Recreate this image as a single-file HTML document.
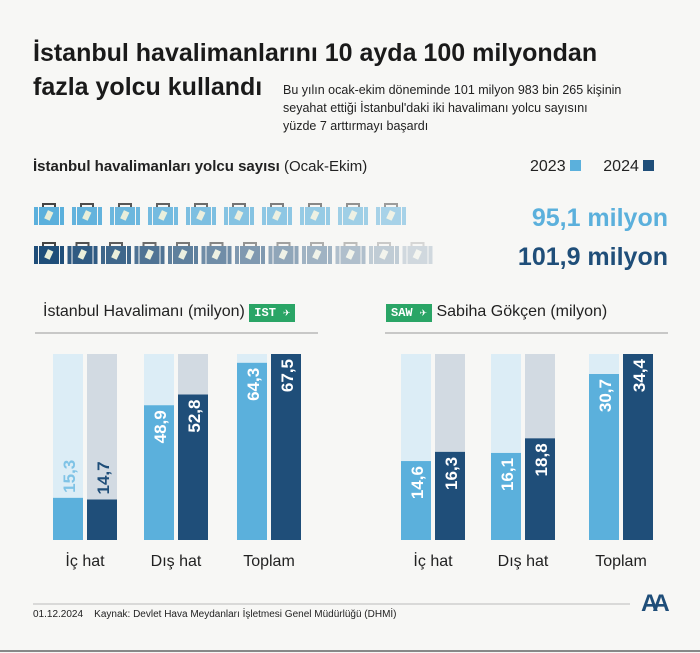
<!DOCTYPE html>
<html><head><meta charset="utf-8"><style>
body{margin:0;width:700px;height:653px;background:#f7f7f5;font-family:"Liberation Sans",sans-serif;position:relative;overflow:hidden;color:#222}
.a{position:absolute;white-space:nowrap}
</style></head><body>
<div class="a" style="left:33px;top:36px;font-size:25px;font-weight:bold;line-height:34px;color:#1a1a1a">İstanbul havalimanlarını 10 ayda 100 milyondan<br>fazla yolcu kullandı</div>
<div class="a" style="left:283px;top:81px;font-size:12.5px;line-height:18px;color:#222">Bu yılın ocak-ekim döneminde 101 milyon 983 bin 265 kişinin<br>seyahat ettiği İstanbul'daki iki havalimanı yolcu sayısını<br>yüzde 7 arttırmayı başardı</div>
<div class="a" style="left:33px;top:158px;font-size:15px;"><b>İstanbul havalimanları yolcu sayısı</b> (Ocak-Ekim)</div>
<div class="a" style="left:530px;top:158px;font-size:16px;">2023 <span style="display:inline-block;width:11px;height:11px;background:#5bb0dc"></span>&nbsp;&nbsp;&nbsp;&nbsp;&nbsp;2024 <span style="display:inline-block;width:11px;height:11px;background:#1f4e79"></span></div>
<div class="a" style="right:32px;top:204px;font-size:25px;font-weight:bold;color:#5bb0dc">95,1 milyon</div>
<div class="a" style="right:32px;top:243px;font-size:25px;font-weight:bold;color:#1f4e79">101,9 milyon</div>
<svg class="a" style="left:0;top:0" width="700" height="653" id="svg"></svg>
<div class="a" style="left:43px;top:303px;font-size:16px;">İstanbul Havalimanı (milyon) <span style="background:#2aa566;color:#fff;font-size:12px;padding:2px 5px;font-family:'Liberation Mono',monospace;font-weight:bold">IST ✈</span></div>
<div class="a" style="left:386px;top:303px;font-size:16px;"><span style="background:#2aa566;color:#fff;font-size:12px;padding:2px 5px;font-family:'Liberation Mono',monospace;font-weight:bold">SAW ✈</span> Sabiha Gökçen (milyon)</div>
<div class="a" style="left:33px;top:609px;font-size:10px;">01.12.2024&nbsp;&nbsp;&nbsp;&nbsp;Kaynak: Devlet Hava Meydanları İşletmesi Genel Müdürlüğü (DHMİ)</div>
<div class="a" style="left:641px;top:590px;font-size:24px;font-weight:bold;color:#1f4e79;letter-spacing:-6px">AA</div>
<script>
const cats=["İç hat","Dış hat","Toplam"];
const ist2023=[15.3,48.9,64.3];
const ist2024=[14.7,52.8,67.5];
const saw2023=[14.6,16.1,30.7];
const saw2024=[16.3,18.8,34.4];
const svg=document.getElementById('svg');
const NS='http://www.w3.org/2000/svg';
function mk(t,a){const e=document.createElementNS(NS,t);for(const k in a)e.setAttribute(k,a[k]);svg.appendChild(e);return e;}
// lines
let l=mk('line',{x1:35,x2:318,y1:333,y2:333,stroke:'#999','stroke-width':1});

l=mk('line',{x1:385,x2:668,y1:333,y2:333,stroke:'#999','stroke-width':1});

l=mk('line',{x1:33,x2:630,y1:604,y2:604,stroke:'#bbb','stroke-width':1});

l=mk('line',{x1:0,x2:700,y1:651,y2:651,stroke:'#888','stroke-width':2});

// suitcases
function suit(x,y,fill,op,name){
 const g=document.createElementNS(NS,'g');g.setAttribute('opacity',op);svg.appendChild(g);
 
 const add=(t,a)=>{const e=document.createElementNS(NS,t);for(const k in a)e.setAttribute(k,a[k]);g.appendChild(e);};
 add('path',{d:`M${x+9} ${y+4}v-3h12v3`,stroke:'#444',fill:'none','stroke-width':2});
 add('rect',{x:x,y:y+4,width:4,height:18,fill:fill});
 add('rect',{x:x+5,y:y+4,width:20,height:18,fill:fill});
 add('rect',{x:x+26,y:y+4,width:4,height:18,fill:fill});
 add('rect',{x:x+12,y:y+8,width:6,height:9,fill:'#e8eed8',transform:`rotate(25 ${x+15} ${y+12})`});
}
for(let i=0;i<10;i++)suit(34+i*38,203,'#5bb0dc',1-i*0.055,'suitcase-2023');
for(let i=0;i<12;i++)suit(34+i*33.5,242,'#1f4e79',1-i*0.075,'suitcase-2024');
function chart(d1,d2,xs,max,pre){
 const top=354,bot=540,H=bot-top;
 const y=v=>bot-v/max*H;
 for(let i=0;i<3;i++){
  const x1=xs[i],x2=xs[i]+34;
  let r=mk('rect',{x:x1,y:top,width:30,height:H,fill:'#dcedf6'});
  
  r=mk('rect',{x:x2,y:top,width:30,height:H,fill:'#d2dae2'});
  
  r=mk('rect',{x:x1,y:y(d1[i]),width:30,height:bot-y(d1[i]),fill:'#5bb0dc'});
  
  r=mk('rect',{x:x2,y:y(d2[i]),width:30,height:bot-y(d2[i]),fill:'#1f4e79'});
  
  const lab=(v,x,c)=>{const t=mk('text',{x:0,y:0,transform:`translate(${x+22},${y(v)+(v/max<0.35?-5:5)}) rotate(-90)`,'text-anchor':v/max<0.35?'start':'end','font-size':17,'font-weight':'bold','font-family':'Liberation Sans',fill:c});t.textContent=String(v).replace('.',',');
   };
  lab(d1[i],x1,d1[i]/max<0.35?'#7fc3e6':'#fff');
  lab(d2[i],x2,d2[i]/max<0.35?'#1f4e79':'#fff');
  const t=mk('text',{x:x1+32,y:566,'text-anchor':'middle','font-size':16,'font-family':'Liberation Sans',fill:'#222'});t.textContent=cats[i];
  
 }
}
chart(ist2023,ist2024,[53,144,237],67.5,'ist-');
chart(saw2023,saw2024,[401,491,589],34.4,'saw-');
</script>
</body></html>
